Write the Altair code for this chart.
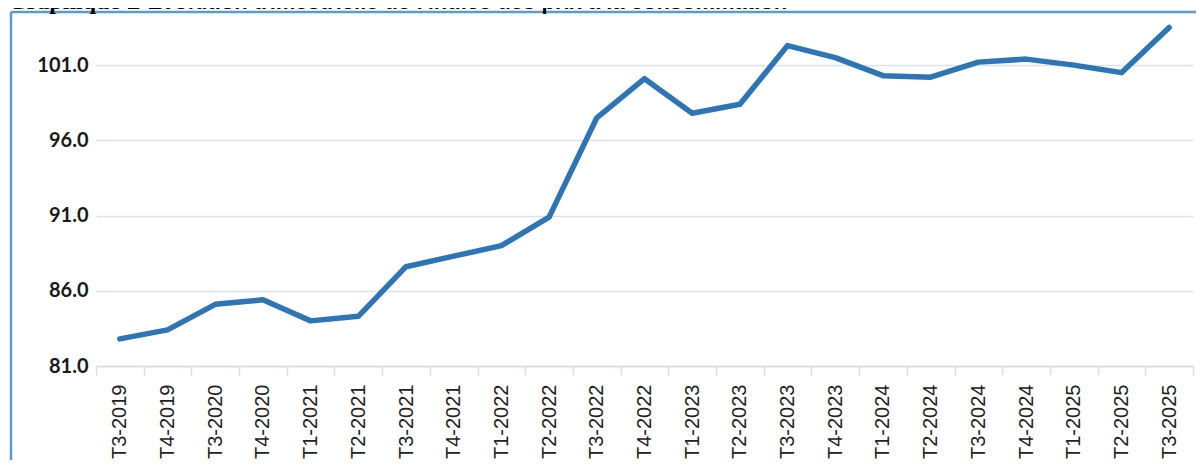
import altair as alt
import pandas as pd

quarters = ["T3-2019", "T4-2019", "T3-2020", "T4-2020", "T1-2021", "T2-2021",
            "T3-2021", "T4-2021", "T1-2022", "T2-2022", "T3-2022", "T4-2022",
            "T1-2023", "T2-2023", "T3-2023", "T4-2023", "T1-2024", "T2-2024",
            "T3-2024", "T4-2024", "T1-2025", "T2-2025", "T3-2025"]
ipc = [82.8, 83.4, 85.1, 85.4, 84.0, 84.3,
       87.6, 88.3, 89.0, 90.9, 97.5, 100.1,
       97.8, 98.4, 102.3, 101.5, 100.3, 100.2,
       101.2, 101.4, 101.0, 100.5, 103.5]
y_ticks = [81, 86, 91, 96, 101]
title_a = "Graphique 1"
title_b = ": Evolution trimestrielle de l'indice des prix à la consommation"

df = pd.DataFrame({"q": quarters, "v": ipc})
one = pd.DataFrame({"k": [0]})

line = alt.Chart(df).mark_line(
    color="#2e75b6", strokeWidth=5.5, strokeCap="round", strokeJoin="round"
).encode(
    x=alt.X("q:N", sort=quarters, bandPosition=0.5, title=None,
            scale=alt.Scale(type="band", paddingInner=0, paddingOuter=0),
            axis=alt.Axis(labelAngle=270, labelFont="Liberation Sans", labelFontSize=20,
                          labelColor="#222222", labelPadding=9, tickBand="extent",
                          tickSize=9, tickWidth=1.5, tickColor="#d6dce4",
                          domainColor="#d6dce4", domainWidth=1.5, grid=False)),
    y=alt.Y("v:Q", title=None,
            scale=alt.Scale(domain=[81, 104], nice=False, zero=False),
            axis=alt.Axis(values=y_ticks, format=".1f", labelFont="Lato",
                          labelFontWeight="bold", labelFontSize=20, labelColor="#1a1a1a",
                          labelPadding=8, ticks=False, domain=False,
                          gridColor="#dde1e8", gridWidth=1.5)),
)

border = alt.Chart(one).mark_rect(
    fill=None, fillOpacity=0, stroke="#5b9bd5", strokeWidth=2.5, cornerRadius=2
).encode(
    x=alt.value(-85), x2=alt.value(1300), y=alt.value(-8), y2=alt.value(700)
)

t1 = alt.Chart(one).mark_text(
    text=title_a, font="Liberation Serif", fontWeight="bold", fontSize=24,
    align="left", baseline="alphabetic", color="#000000"
).encode(x=alt.value(-88), y=alt.value(-11))

t2 = alt.Chart(one).mark_text(
    text=title_b, font="Liberation Sans", fontWeight="bold", fontSize=22,
    align="left", baseline="alphabetic", color="#000000"
).encode(x=alt.value(38), y=alt.value(-11))

chart = alt.layer(border, t1, t2, line).properties(
    width=1097, height=346,
    padding={"left": 88, "top": 12, "right": 3, "bottom": 94},
    autosize=alt.AutoSizeParams(type="none"),
).configure_view(stroke=None)

chart.save("out.html", embed_options={"renderer": "svg", "actions": False})
